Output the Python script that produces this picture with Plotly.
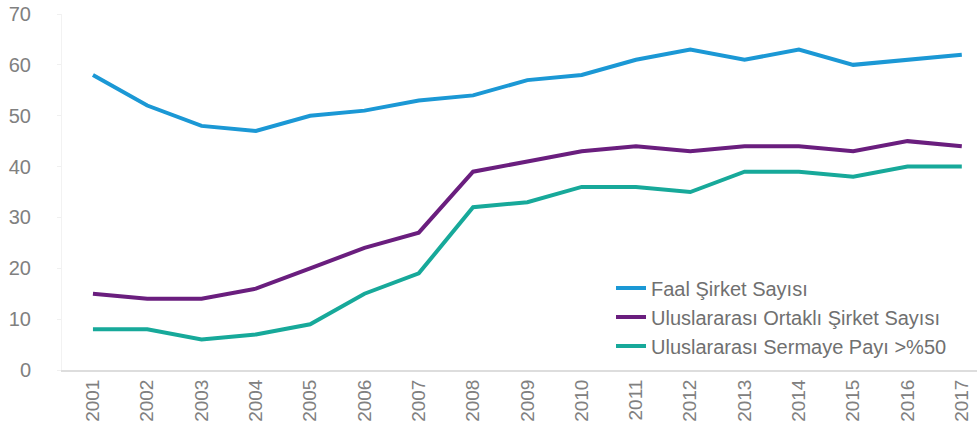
import plotly.graph_objects as go

years = list(range(2001, 2018))
faal = [58, 52, 48, 47, 50, 51, 53, 54, 57, 58, 61, 63, 61, 63, 60, 61, 62]
ortakli = [15, 14, 14, 16, 20, 24, 27, 39, 41, 43, 44, 43, 44, 44, 43, 45, 44]
sermaye = [8, 8, 6, 7, 9, 15, 19, 32, 33, 36, 36, 35, 39, 39, 38, 40, 40]
names = ["Faal Şirket Sayısı", "Uluslararası Ortaklı Şirket Sayısı", "Uluslararası Sermaye Payı >%50"]
colors = ["#1B98D5", "#6A1E7E", "#17A99A"]

fig = go.Figure()
for vals, name, c in zip([faal, ortakli, sermaye], names, colors):
    fig.add_trace(go.Scatter(x=years, y=vals, mode="lines", name=name,
                             line=dict(color=c, width=4)))

fig.update_layout(
    width=977, height=440,
    margin=dict(l=62, r=0, t=14, b=70),
    plot_bgcolor="white", paper_bgcolor="white",
    font=dict(family="Liberation Sans, Arial, sans-serif", color="#808080", size=19),
    showlegend=True,
    legend=dict(x=0.600, y=0.285, xanchor="left", yanchor="top",
                bgcolor="rgba(255,255,255,0)", font=dict(size=20, color="#707070"),
                tracegroupgap=0, itemwidth=30),
)
fig.update_xaxes(range=[2000.43, 2017.28], tickmode="array", tickvals=years,
                 ticktext=[str(y) for y in years], tickangle=-90,
                 showgrid=False, zeroline=False, showline=True,
                 linecolor="#DDDDDD", linewidth=2, ticks="",
                 tickfont=dict(size=19, color="#808080"))
fig.update_yaxes(range=[0, 70], tickvals=[0, 10, 20, 30, 40, 50, 60, 70],
                 showgrid=False, zeroline=False, showline=True,
                 linecolor="#F2F2F2", linewidth=1, ticks="outside",
                 tickcolor="#F0F0F0", ticklen=4, ticklabelstandoff=22,
                 tickfont=dict(size=20, color="#808080"))

fig.write_html("out.html")
